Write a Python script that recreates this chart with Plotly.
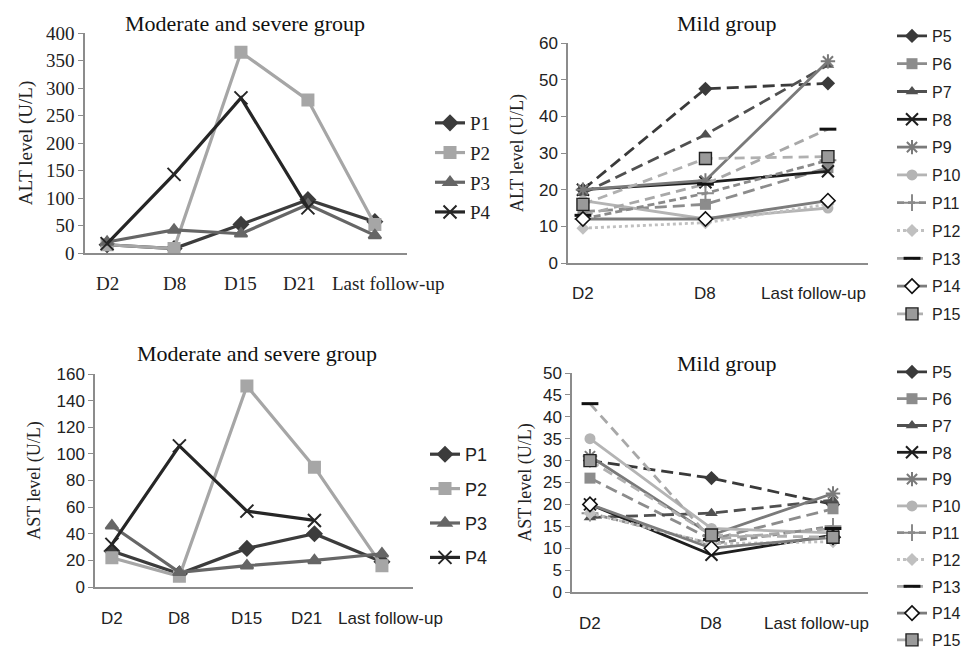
import plotly.graph_objects as go

# ---------------- data ----------------
cats_mod = ["D2", "D8", "D15", "D21", "Last follow-up"]
cats_mild = ["D2", "D8", "Last follow-up"]

alt_mod = {
    "P1": [15, 8, 52, 97, 57],
    "P2": [15, 8, 365, 278, 52],
    "P3": [20, 42, 35, 88, 32],
    "P4": [17, 143, 282, 82, None],
}
ast_mod = {
    "P1": [27, 10, 29, 40, 19],
    "P2": [22, 8, 151, 90, 16],
    "P3": [46, 11, 16, 20, 25],
    "P4": [32, 106, 57, 50, None],
}
alt_mild = {
    "P5": [20, 47.5, 49],
    "P6": [14, 16, 26],
    "P7": [19, 35, 54],
    "P8": [20, 22, 25],
    "P9": [20, 22.5, 55],
    "P10": [17, 12, 15],
    "P11": [12, 19, 28],
    "P12": [9.5, 11, 16],
    "P13": [13, 21.5, 36.5],
    "P14": [12, 12, 17],
    "P15": [16, 28.5, 29],
}
ast_mild = {
    "P5": [30, 26, 20],
    "P6": [26, 12, 19],
    "P7": [17, 18, 21],
    "P8": [20, 8.5, 13],
    "P9": [31, 13, 22.5],
    "P10": [35, 14.5, 13.5],
    "P11": [18, 11, 15],
    "P12": [18, 11, 11.5],
    "P13": [43, 12, 14.5],
    "P14": [20, 10, 12.5],
    "P15": [30, 13, 12.5],
}

# ---------------- styles ----------------
mod_style = {
    "P1": dict(color="#3c3c3c", symbol="diamond", size=11, dash="solid"),
    "P2": dict(color="#a6a6a6", symbol="square", size=11, dash="solid"),
    "P3": dict(color="#666666", symbol="triangle-up", size=11, dash="solid"),
    "P4": dict(color="#262626", symbol="x-thin-open", size=13, dash="solid"),
}
mild_style = {
    "P5": dict(color="#3a3a3a", symbol="diamond", size=11, dash="12px,6px"),
    "P6": dict(color="#8c8c8c", symbol="square", size=11, dash="12px,6px"),
    "P7": dict(color="#505050", symbol="triangle-up", size=11, dash="12px,6px"),
    "P8": dict(color="#1e1e1e", symbol="x-thin-open", size=12, dash="solid"),
    "P9": dict(color="#7a7a7a", symbol="asterisk-open", size=12, dash="solid"),
    "P10": dict(color="#b4b4b4", symbol="circle", size=11, dash="solid"),
    "P11": dict(color="#8a8a8a", symbol="cross-thin-open", size=12, dash="7px,4px"),
    "P12": dict(color="#c0c0c0", symbol="diamond", size=10, dash="dot"),
    "P13": dict(color="#a8a8a8", symbol="line-ew-open", size=12, dash="10px,6px"),
    "P14": dict(color="#7c7c7c", symbol="diamond", size=11, dash="solid"),
    "P15": dict(color="#b0b0b0", symbol="square", size=12, dash="10px,6px"),
}

SERIF = "Liberation Serif"
SANS = "Liberation Sans"

fig = go.Figure()


def add_mod(data, xa, ya, leg):
    for name, vals in data.items():
        s = mod_style[name]
        fig.add_trace(go.Scatter(
            x=cats_mod, y=vals, name=name, mode="lines+markers",
            xaxis=xa, yaxis=ya, legend=leg, legendgroup=leg + name,
            line=dict(color=s["color"], width=3.2, dash=s["dash"]),
            marker=dict(symbol=s["symbol"], size=s["size"], color=s["color"],
                        line=dict(color=s["color"], width=2)),
            connectgaps=False,
        ))


def add_mild(data, xa, ya, leg):
    for name, vals in data.items():
        s = mild_style[name]
        if name == "P14":
            mk = dict(symbol="diamond", size=s["size"], color="white",
                      line=dict(color="#111111", width=1.6))
        elif name == "P15":
            mk = dict(symbol="square", size=s["size"], color="#9a9a9a",
                      line=dict(color="#222222", width=1.4))
        elif name == "P13":
            mk = dict(symbol="line-ew-open", size=s["size"], color="#111111",
                      line=dict(color="#111111", width=3))
        else:
            mk = dict(symbol=s["symbol"], size=s["size"], color=s["color"],
                      line=dict(color=s["color"], width=2 if "open" in s["symbol"] else 0))
        fig.add_trace(go.Scatter(
            x=cats_mild, y=vals, name=name, mode="lines+markers",
            xaxis=xa, yaxis=ya, legend=leg, legendgroup=leg + name,
            line=dict(color=s["color"], width=2.8, dash=s["dash"]),
            marker=mk,
        ))


add_mod(alt_mod, "x", "y", "legend")
add_mild(alt_mild, "x2", "y2", "legend2")
add_mod(ast_mod, "x3", "y3", "legend3")
add_mild(ast_mild, "x4", "y4", "legend4")

# page body adds an 8px margin at top/left
OFF = 8
W, H = 972 - OFF, 655 - OFF


def dx(px):
    return (px - OFF) / W


def dy(py):
    return 1 - (py - OFF) / H


axis_common = dict(showgrid=False, zeroline=False, showline=True,
                   linecolor="#8c8c8c", linewidth=1.5, mirror=False, automargin=False)


def tf(fam, size):
    return dict(family=fam, size=size, color="#222222")


fig.update_layout(
    width=W, height=H,
    margin=dict(l=0, r=0, t=0, b=0, autoexpand=False),
    paper_bgcolor="white", plot_bgcolor="white",
    showlegend=True,
    # top-left
    xaxis=dict(domain=[dx(85), dx(407)], anchor="y", type="category",
               range=[-0.33, 4.48], ticks="", showticklabels=False, **axis_common),
    yaxis=dict(domain=[dy(253), dy(33)], anchor="x", range=[0, 400], dtick=50,
               ticks="outside", ticklen=5, tickcolor="#8c8c8c",
               tickfont=tf(SERIF, 19),
               title=dict(text="ALT level (U/L)", font=tf(SERIF, 19), standoff=8),
               **axis_common),
    # top-right
    xaxis2=dict(domain=[dx(568), dx(868)], anchor="y2", type="category",
                range=[-0.122, 2.327], ticks="", showticklabels=False, **axis_common),
    yaxis2=dict(domain=[dy(263), dy(43)], anchor="x2", range=[0, 60], dtick=10,
                ticks="outside", ticklen=5, tickcolor="#8c8c8c",
                tickfont=tf(SANS, 17),
                title=dict(text="ALT level (U/L)", font=tf(SERIF, 18), standoff=11),
                **axis_common),
    # bottom-left
    xaxis3=dict(domain=[dx(95), dx(413)], anchor="y3", type="category",
                range=[-0.25, 4.46], ticks="", showticklabels=False, **axis_common),
    yaxis3=dict(domain=[dy(587), dy(374)], anchor="x3", range=[0, 160], dtick=20,
                ticks="outside", ticklen=5, tickcolor="#8c8c8c",
                tickfont=tf(SANS, 17),
                title=dict(text="AST level (U/L)", font=tf(SERIF, 18), standoff=11),
                **axis_common),
    # bottom-right
    xaxis4=dict(domain=[dx(572), dx(868)], anchor="y4", type="category",
                range=[-0.148, 2.288], ticks="", showticklabels=False, **axis_common),
    yaxis4=dict(domain=[dy(592), dy(373)], anchor="x4", range=[0, 50], dtick=5,
                ticks="outside", ticklen=5, tickcolor="#8c8c8c",
                tickfont=tf(SANS, 17),
                title=dict(text="AST level (U/L)", font=tf(SERIF, 18), standoff=7),
                **axis_common),
    legend=dict(x=dx(430), y=dy(104), xanchor="left", yanchor="top",
                font=tf(SERIF, 19), tracegroupgap=2, bgcolor="rgba(0,0,0,0)"),
    legend2=dict(x=dx(892), y=dy(19), xanchor="left", yanchor="top",
                 font=tf(SANS, 16), tracegroupgap=4, bgcolor="rgba(0,0,0,0)"),
    legend3=dict(x=dx(425), y=dy(436), xanchor="left", yanchor="top",
                 font=tf(SANS, 18), tracegroupgap=8, bgcolor="rgba(0,0,0,0)"),
    legend4=dict(x=dx(892), y=dy(355), xanchor="left", yanchor="top",
                 font=tf(SANS, 16), tracegroupgap=3, bgcolor="rgba(0,0,0,0)"),
)


# category labels under each x axis (placed like the source, crowded ones nudged apart)
def add_xlabels(cats, xref, ypx, font, shifts):
    for c, sh in zip(cats, shifts):
        fig.add_annotation(text=c, x=c, xref=xref, y=dy(ypx), yref="paper",
                           xanchor="center", yanchor="middle", showarrow=False,
                           xshift=sh, font=font)


add_xlabels(cats_mod, "x", 283, tf(SERIF, 19), [0, 0, 0, -8, 13])
add_xlabels(cats_mild, "x2", 293, tf(SANS, 17), [0, 0, -14])
add_xlabels(cats_mod, "x3", 618, tf(SANS, 17), [0, 0, 0, -8, 9])
add_xlabels(cats_mild, "x4", 623, tf(SANS, 17), [0, 0, -17])

titles = [
    ("Moderate and severe group", 245, 9),
    ("Mild group", 727, 9),
    ("Moderate and severe group", 257, 339),
    ("Mild group", 727, 349),
]
for text, cx, ty in titles:
    fig.add_annotation(text=text, x=dx(cx), y=dy(ty), xref="paper", yref="paper",
                       xanchor="center", yanchor="top", showarrow=False,
                       font=dict(family=SERIF, size=22, color="#111111"))

fig.write_html("out.html")
